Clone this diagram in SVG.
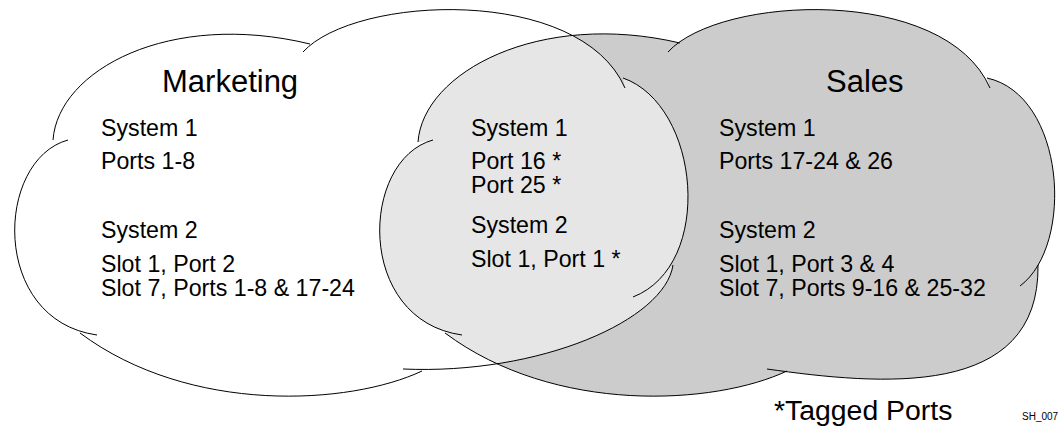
<svg xmlns="http://www.w3.org/2000/svg" width="1060" height="427" viewBox="0 0 1060 427">
  <style>
    .lobe { fill: none; stroke: #000; stroke-width: 1; }
    .title { font-family: "Liberation Sans", Arial, sans-serif; font-size: 31px; fill: #000; }
    .item { font-family: "Liberation Sans", Arial, sans-serif; font-size: 23.2px; fill: #000; }
    .legend { font-family: "Liberation Sans", Arial, sans-serif; font-size: 28.4px; fill: #000; }
    .tag { font-family: "Liberation Sans", Arial, sans-serif; font-size: 10px; fill: #000; }
  </style>
  <defs>
    <!-- cloud bodies: lobes joined in order, used for fills and clipping -->
    <path id="mkt-body" d="M53,140 C58,70 170,10 310,44 L303,52 C355,-5 580,-15 625,88 L623,78 C700,105 715,265 633,297 L673,265 C665,320 540,375 403,369 L422,371 C350,405 190,415 80,333 L97,335 C-10,320 -5,160 68,140 Z"/>
    <path id="sales-body" d="M418,142 C423,72 540,10 680,43 L668,52 C720,-5 945,-15 990,88 L987,78 C1065,95 1075,245 1020,286 L1038,265 C1040,400 880,385 767,369 L787,371 C715,405 555,415 445,333 L462,335 C355,320 360,160 433,140 Z"/>
    <clipPath id="mkt-clip">
      <use href="#mkt-body"/>
    </clipPath>
  </defs>

  <!-- Marketing VLAN -->
  <g id="marketing">
    <use href="#mkt-body" fill="#ffffff"/>
  </g>

  <!-- Sales VLAN -->
  <g id="sales">
    <use href="#sales-body" fill="#cccccc"/>
  </g>

  <!-- ports that belong to both VLANs -->
  <g id="shared">
    <use href="#sales-body" fill="#e6e6e6" clip-path="url(#mkt-clip)"/>
  </g>

  <!-- cloud outlines, each lobe drawn on its own so the tips overlap -->
  <g id="outlines">
    <path class="lobe" d="M53,140 C58,70 170,10 310,44"/>
    <path class="lobe" d="M303,52 C355,-5 580,-15 625,88"/>
    <path class="lobe" d="M623,78 C700,105 715,265 633,297"/>
    <path class="lobe" d="M673,265 C665,320 540,375 403,369"/>
    <path class="lobe" d="M422,371 C350,405 190,415 80,333"/>
    <path class="lobe" d="M97,335 C-10,320 -5,160 68,140"/>

    <path class="lobe" d="M418,142 C423,72 540,10 680,43"/>
    <path class="lobe" d="M668,52 C720,-5 945,-15 990,88"/>
    <path class="lobe" d="M987,78 C1065,95 1075,245 1020,286"/>
    <path class="lobe" d="M1038,265 C1040,400 880,385 767,369"/>
    <path class="lobe" d="M787,371 C715,405 555,415 445,333"/>
    <path class="lobe" d="M462,335 C355,320 360,160 433,140"/>
  </g>

  <g id="marketing-text">
    <text class="title" x="162" y="92">Marketing</text>
    <text class="item" x="101" y="136">System 1</text>
    <text class="item" x="101" y="169">Ports 1-8</text>
    <text class="item" x="101" y="238">System 2</text>
    <text class="item" x="101" y="272">Slot 1, Port 2</text>
    <text class="item" x="101" y="296">Slot 7, Ports 1-8 &amp; 17-24</text>
  </g>

  <g id="shared-text">
    <text class="item" x="471" y="136">System 1</text>
    <text class="item" x="471" y="169">Port 16 *</text>
    <text class="item" x="471" y="193">Port 25 *</text>
    <text class="item" x="471" y="233">System 2</text>
    <text class="item" x="471" y="267">Slot 1, Port 1 *</text>
  </g>

  <g id="sales-text">
    <text class="title" x="826" y="92">Sales</text>
    <text class="item" x="719" y="136">System 1</text>
    <text class="item" x="719" y="169">Ports 17-24 &amp; 26</text>
    <text class="item" x="719" y="238">System 2</text>
    <text class="item" x="719" y="272">Slot 1, Port 3 &amp; 4</text>
    <text class="item" x="719" y="296">Slot 7, Ports 9-16 &amp; 25-32</text>
  </g>

  <g id="legend">
    <text class="legend" x="774" y="420">*Tagged Ports</text>
    <text class="tag" x="1022" y="420">SH_007</text>
  </g>
</svg>
